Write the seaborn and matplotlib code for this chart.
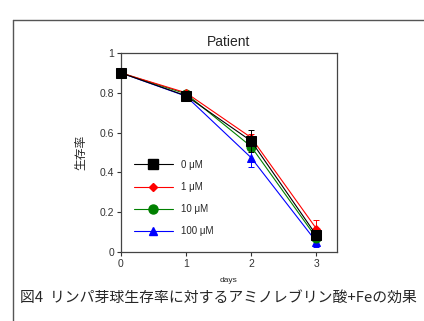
import matplotlib
matplotlib.use("Agg")
import matplotlib.pyplot as plt
import seaborn as sns
from matplotlib.lines import Line2D

sns.set_style("ticks")
plt.rcParams['font.family'] = ['Liberation Sans', 'Noto Sans CJK JP', 'DejaVu Sans']

days = [0, 1, 2, 3]
labels = ['0 μM', '1 μM', '10 μM', '100 μM']
v0 = [0.90, 0.785, 0.558, 0.085]
v1 = [0.90, 0.800, 0.575, 0.118]
v10 = [0.90, 0.795, 0.530, 0.072]
v100 = [0.90, 0.783, 0.474, 0.052]
e0 = [0.005, 0.010, 0.055, 0.012]
e1 = [0.005, 0.008, 0.020, 0.042]
e10 = [0.005, 0.008, 0.020, 0.012]
e100 = [0.005, 0.008, 0.045, 0.027]

colors = ['black', 'red', 'green', 'blue']
markers = ['s', 'D', 'o', '^']
msizes = [7, 4.5, 6.5, 5.5]
zorders = [6, 5, 4, 3]

fig = plt.figure(figsize=(4.24, 3.21), dpi=100)
ax = fig.add_axes([0.285, 0.215, 0.51, 0.62])

series = [v0, v1, v10, v100]
errs = [e0, e1, e10, e100]
for vals, err, lab, c, m, ms, z in zip(series, errs, labels, colors, markers, msizes, zorders):
    ax.errorbar(days, vals, yerr=err, fmt='none', ecolor=c, elinewidth=0.7,
                capsize=2, capthick=0.7, zorder=z)
    sns.lineplot(x=days, y=vals, ax=ax, color=c, marker=m, markersize=ms,
                 markeredgecolor=c, linewidth=0.8, label=lab, zorder=z,
                 clip_on=False)

ax.set_xlim(0, 3.32)
ax.set_ylim(0, 1)
ax.set_xticks([0, 1, 2, 3])
ax.set_yticks([0, 0.2, 0.4, 0.6, 0.8, 1])
ax.set_yticklabels(['0', '0.2', '0.4', '0.6', '0.8', '1'])
ax.tick_params(labelsize=7.5, length=3, width=0.8, direction='out', pad=2, colors='#333333')
for sp in ax.spines.values():
    sp.set_visible(True)
    sp.set_color('#444444')
    sp.set_linewidth(0.9)

ax.set_title('Patient', fontsize=10, pad=5)
ax.set_xlabel('days', fontsize=6, labelpad=6)
ax.set_ylabel('生存率', fontsize=8.5, labelpad=9)

handles = [Line2D([], [], color=c, marker=m, markersize=ms, linewidth=0.8)
           for c, m, ms in zip(colors, markers, msizes)]
ax.legend(handles, labels, loc='lower left', bbox_to_anchor=(0.02, 0.035),
          frameon=False, fontsize=7, handlelength=4.0, labelspacing=1.25,
          handletextpad=0.8)

# outer frame of the figure panel
fig.add_artist(Line2D([13 / 424, 1.0], [1 - 20 / 321, 1 - 20 / 321],
                      color='#555555', linewidth=1.0))
fig.add_artist(Line2D([13 / 424, 13 / 424], [0, 1 - 20 / 321],
                      color='#555555', linewidth=1.0))

fig.text(20 / 424, 1 - 298 / 321, '図4  リンパ芽球生存率に対するアミノレブリン酸+Feの効果',
         fontsize=10.7, va='center', ha='left',
         family=['Noto Sans CJK JP', 'DejaVu Sans'])

fig.savefig('out.png', dpi=100)
